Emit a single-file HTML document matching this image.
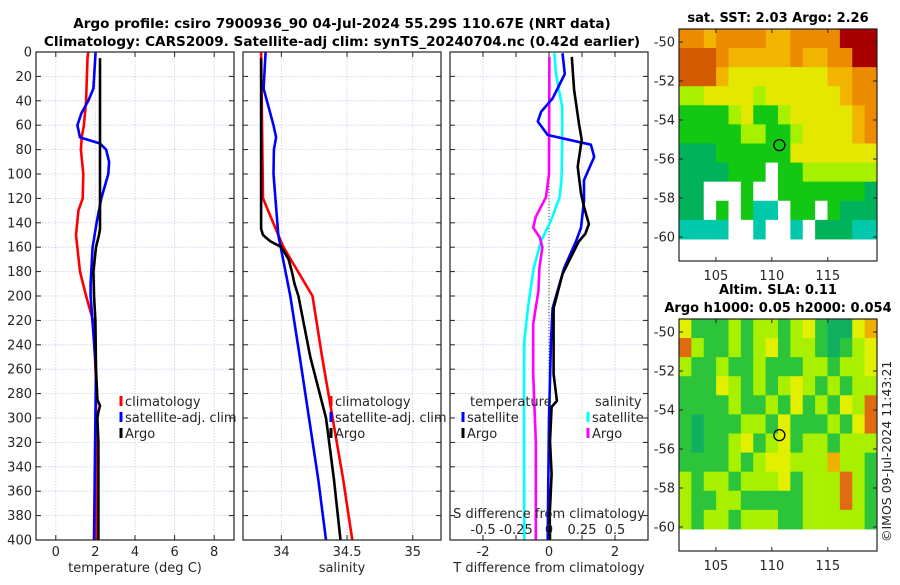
<!DOCTYPE html>
<html><head><meta charset="utf-8">
<style>
body{margin:0;background:#fff;width:900px;height:580px;overflow:hidden}
svg{font-family:"DejaVu Sans","Liberation Sans",sans-serif}
</style></head>
<body>
<svg id="c" width="900" height="580" viewBox="0 0 900 580" xmlns="http://www.w3.org/2000/svg">
<rect width="900" height="580" fill="#fff"/>
<text x="342" y="28" font-size="13.6" font-weight="bold" text-anchor="middle" fill="#000">Argo profile: csiro 7900936_90 04-Jul-2024 55.29S 110.67E (NRT data)</text>
<text x="342" y="46" font-size="13.6" font-weight="bold" text-anchor="middle" fill="#000">Climatology: CARS2009. Satellite-adj clim: synTS_20240704.nc (0.42d earlier)</text>
<text x="778" y="22" font-size="13" font-weight="bold" text-anchor="middle">sat. SST: 2.03 Argo: 2.26</text>
<text x="778" y="294" font-size="13" font-weight="bold" text-anchor="middle">Altim. SLA: 0.11</text>
<text x="778" y="312" font-size="13" font-weight="bold" text-anchor="middle">Argo h1000: 0.05 h2000: 0.054</text>
<text transform="translate(891,542) rotate(-90)" font-size="12.5" fill="#222">©IMOS 09-Jul-2024 11:43:21</text>
</svg>
<script>
// ---- data ----
const depthTicks=[0,20,40,60,80,100,120,140,160,180,200,220,240,260,280,300,320,340,360,380,400];
const tempTicks=[0,2,4,6,8];
const salTicks=[34,34.5,35];
const diffTicks=[-2,-1,0,1,2];
const diffTickLabels=["-2","","0","","2"];
const sdiffTickLabels=["-0.5","-0.25","0","0.25","0.5"];
const sdiffTicks=[-0.5,-0.25,0,0.25,0.5];
const climTempDepth=[0,5,40,60,70,80,100,120,130,150,180,200,220,250,270,300,400];
const climTempVal=[1.64,1.6,1.53,1.42,1.31,1.27,1.39,1.36,1.14,1.02,1.22,1.53,1.88,1.98,2.03,2.03,2.03];
const satTempDepth=[0,30,40,50,60,70,75,80,90,100,120,140,160,190,200,260,300,400];
const satTempVal=[2.01,1.9,1.64,1.3,1.09,1.22,2.23,2.54,2.69,2.65,2.3,2.06,1.86,1.76,1.76,2.03,2.0,1.93];
const argoTempDepth=[5,145,150,160,180,200,220,260,285,290,295,300,320,400];
const argoTempVal=[2.23,2.23,2.18,2.03,1.9,1.93,2.0,2.03,2.1,2.23,2.15,2.1,2.15,2.15];
const climSalDepth=[0,120,150,160,200,250,300,350,400];
const climSalVal=[33.846,33.86,33.977,34.016,34.237,34.31,34.39,34.47,34.54];
const satSalDepth=[0,30,40,60,70,80,100,150,200,250,300,350,400];
const satSalVal=[33.88,33.865,33.89,33.94,33.96,33.943,33.94,33.977,34.068,34.14,34.21,34.28,34.34];
const argoSalDepth=[5,145,150,155,160,170,180,190,200,250,300,350,400];
const argoSalVal=[33.846,33.846,33.86,33.914,34.0,34.055,34.08,34.1,34.13,34.22,34.34,34.40,34.45];
const satTdiffDepth=[1,18,38,49,57,68,76,86,105,122,144,155,177,210,237,300,400];
const satTdiffVal=[0.41,0.48,0.11,-0.24,-0.34,-0.04,1.27,1.37,1.06,1.06,0.97,0.82,0.46,0.11,0.06,0.0,-0.04];
const argoTdiffDepth=[4,31,59,72,94,116,127,141,149,155,182,210,264,286,291,319,346,374,379,400];
const argoTdiffVal=[0.69,0.76,0.91,0.99,0.87,0.97,1.06,1.21,1.1,0.91,0.41,0.14,0.14,0.24,0.08,0.03,0.08,0.03,0.02,0.03];
const satSdiffDepth=[1,18,45,72,105,119,138,155,177,210,237,291,379,400];
const satSdiffVal=[0.04,0.053,0.10,0.10,0.095,0.08,0.015,-0.06,-0.116,-0.16,-0.187,-0.19,-0.187,-0.187];
const argoSdiffDepth=[4,100,119,135,144,152,160,177,196,223,264,319,379,400];
const argoSdiffVal=[0.003,0,-0.023,-0.1,-0.12,-0.07,-0.05,-0.073,-0.08,-0.12,-0.12,-0.10,-0.1,-0.1];
const sstRows=["OOoOOOOooOOOORRR","DDDOoooooOooOORR","DDDoYYYYYYYYooOO","LLYYYYLYYYYYYoOO","GGGGLYGGLYYYYYoO","GGGGGLLGGLYYYYoO","SSSGGGGGGYYYYYYY","SSSSGGGWGGLLLLLL","SSWWWGWWGGGGGGGS","SSWGWGTTWGGWGSSS","TTTTWWTWWTWSSSTT"];
const slaRows=["YgggLgLLgLYgSSYO","RLggLgLYgLLgSgLY","LggLggLgggLLgLLY","gggYLgLgLYLgLgLL","ggggLggLgYgLgYLR","gSgggLLgYgggLgYR","gSggLYgLYgLLgLLL","ggggLgLYYLLLOLLg","LgLLgLLLYgLLLRLg","LggLLgggggLLLRLg","LgLLgLLLggLLLLLg"];
const floatLon=110.67, floatLat=-55.29;

const NS="http://www.w3.org/2000/svg";
const svg=document.getElementById('c');
function mk(tag,attrs,parent){const e=document.createElementNS(NS,tag);for(const k in attrs)e.setAttribute(k,attrs[k]);(parent||svg).appendChild(e);return e;}
const top0=52,bot=540;
const yD=d=>top0+(d/400)*(bot-top0);
function lin(d0,d1,r0,r1){return v=>r0+(v-d0)/(d1-d0)*(r1-r0);}
const panels=[
 {x0:36,x1:234,dom:[-1,9],ticks:tempTicks,labels:tempTicks.map(String),title:"temperature (deg C)",name:"temperature-panel"},
 {x0:243,x1:441,dom:[33.708,35.215],ticks:salTicks,labels:["34","34.5","35"],title:"salinity",name:"salinity-panel"},
 {x0:450,x1:648,dom:[-3,3],ticks:diffTicks,labels:diffTickLabels,title:"T difference from climatology",name:"difference-panel"}
];
panels.forEach((p,i)=>{
 p.sx=lin(p.dom[0],p.dom[1],p.x0,p.x1);
 const g=mk('g',{});
 
 
 mk('rect',{x:p.x0,y:top0,width:p.x1-p.x0,height:bot-top0,fill:'#fff'},g);
 depthTicks.forEach(d=>{
  const l=mk('line',{x1:p.x0,x2:p.x1,y1:yD(d),y2:yD(d),stroke:'#c8cde6','stroke-dasharray':'1.5,1.5','stroke-width':0.8},g);
  
  
  mk('line',{x1:p.x0,x2:p.x0+5,y1:yD(d),y2:yD(d),stroke:'#222'},g);
  mk('line',{x1:p.x1-5,x2:p.x1,y1:yD(d),y2:yD(d),stroke:'#222'},g);
  if(i===0){const t=mk('text',{x:p.x0-4,y:yD(d)+4.5,'font-size':13,'text-anchor':'end',fill:'#262626'},g);t.textContent=d;
   }
 });
 p.ticks.forEach((v,k)=>{
  const x=p.sx(v);
  const l=mk('line',{x1:x,x2:x,y1:top0,y2:bot,stroke:'#c8cde6','stroke-dasharray':'1.5,1.5','stroke-width':0.8},g);
  
  
  mk('line',{x1:x,x2:x,y1:bot,y2:bot-5,stroke:'#222'},g);
  mk('line',{x1:x,x2:x,y1:top0,y2:top0+5,stroke:'#222'},g);
  const t=mk('text',{x:x,y:bot+16,'font-size':13,'text-anchor':'middle',fill:'#262626'},g);t.textContent=p.labels[k];
  
 });
 const tt=mk('text',{x:(p.x0+p.x1)/2,y:bot+32,'font-size':13,'text-anchor':'middle',fill:'#262626'},g);tt.textContent=p.title;
 
 p.g=g;
});
function series(p,depths,vals,color,name,sx){
 const f=sx||p.sx;
 const pts=depths.map((d,k)=>f(vals[k]).toFixed(1)+','+yD(d).toFixed(1)).join(' ');
 const e=mk('polyline',{points:pts,fill:'none',stroke:color,'stroke-width':2.6,'stroke-linejoin':'round'},p.g);
 
 
}
const P1=panels[0],P2=panels[1],P3=panels[2];
mk('line',{x1:P3.sx(0),x2:P3.sx(0),y1:yD(100),y2:bot,stroke:'#444','stroke-dasharray':'1,2','stroke-width':1},P3.g);
series(P1,climTempDepth,climTempVal,'#ff0000','climatology-temperature-line');
series(P1,satTempDepth,satTempVal,'#0000ff','satellite-temperature-line');
series(P1,argoTempDepth,argoTempVal,'#000','argo-temperature-line');
series(P2,climSalDepth,climSalVal,'#ff0000','climatology-salinity-line');
series(P2,satSalDepth,satSalVal,'#0000ff','satellite-salinity-line');
series(P2,argoSalDepth,argoSalVal,'#000','argo-salinity-line');
const sS=lin(-0.75,0.75,P3.x0,P3.x1);
series(P3,satSdiffDepth,satSdiffVal,'#00ffff','satellite-salinity-diff-line',sS);
series(P3,argoSdiffDepth,argoSdiffVal,'#ff00ff','argo-salinity-diff-line',sS);
series(P3,satTdiffDepth,satTdiffVal,'#0000ff','satellite-temperature-diff-line');
series(P3,argoTdiffDepth,argoTdiffVal,'#000','argo-temperature-diff-line');
const st=mk('text',{x:549,y:518,'font-size':13,'text-anchor':'middle',fill:'#262626'},P3.g);st.textContent="S difference from climatology";

sdiffTicks.forEach((v,k)=>{const t=mk('text',{x:sS(v),y:534,'font-size':13,'text-anchor':'middle',fill:'#262626'},P3.g);t.textContent=sdiffTickLabels[k];
 });
function legend(parent,x,y,color,label,name){
 const g=mk('g',{},parent);
 
 
 mk('line',{x1:x,x2:x,y1:y-10,y2:y,stroke:color,'stroke-width':3},g);
 const t=mk('text',{x:x+4,y:y,'font-size':13,fill:'#262626'},g);t.textContent=label;
}
[[P1,121],[P2,331]].forEach(([p,x])=>{
 legend(p.g,x,406,'#ff0000','climatology','legend-climatology');
 legend(p.g,x,422,'#0000ff','satellite-adj. clim','legend-satellite-adj-clim');
 legend(p.g,x,438,'#000','Argo','legend-argo');
});
svg.appendChild(P3.g);
[P1,P2,P3].forEach(p=>mk('rect',{x:p.x0,y:top0,width:p.x1-p.x0,height:bot-top0,fill:'none',stroke:'#222','stroke-width':1.2}));
let t1=mk('text',{x:470,y:406,'font-size':13,fill:'#262626'},P3.g);t1.textContent="temperature";

let t2=mk('text',{x:595,y:406,'font-size':13,fill:'#262626'},P3.g);t2.textContent="salinity";

legend(P3.g,463,422,'#0000ff','satellite','legend-t-satellite');
legend(P3.g,463,438,'#000','Argo','legend-t-argo');
legend(P3.g,588,422,'#00ffff','satellite','legend-s-satellite');
legend(P3.g,588,438,'#ff00ff','Argo','legend-s-argo');

const sstColors={R:'#a80000',D:'#d45a00',O:'#ec8a00',o:'#f2b400',Y:'#e4e800',L:'#a6f000',G:'#12c812',S:'#00b25a',T:'#00c8aa',W:'#ffffff'};
const slaColors={Y:'#e2f000',L:'#a8f000',g:'#2cc43a',S:'#10b060',O:'#f0b000',R:'#e06a10'};
function map(rows,colors,ytop,name){
 const g=mk('g',{});
 
 
 const x0=679,x1=877,y0=ytop,ybot=ytop+232;
 const sxm=lin(101.7,119.4,x0,x1), sym=lin(-50,-60,ytop+13,ytop+208);
 const latTop=-49.33,latBot=-60.1,lonL=101.7,lonR=119.4;
 const nr=rows.length,nc=rows[0].length;
 rows.forEach((r,i)=>{for(let j=0;j<nc;j++){
  const la0=latTop+(latBot-latTop)*i/nr, la1=latTop+(latBot-latTop)*(i+1)/nr;
  const lo0=lonL+(lonR-lonL)*j/nc, lo1=lonL+(lonR-lonL)*(j+1)/nc;
  const c=mk('rect',{x:sxm(lo0),y:sym(la0),width:sxm(lo1)-sxm(lo0)+0.5,height:sym(la1)-sym(la0)+0.5,fill:colors[r[j]]},g);
  
  
 }});
 mk('rect',{x:x0,y:y0,width:x1-x0,height:ybot-y0,fill:'none',stroke:'#222','stroke-width':1.2},g);
 [-50,-52,-54,-56,-58,-60].forEach(la=>{
  const y=sym(la);
  mk('line',{x1:x0,x2:x0+4,y1:y,y2:y,stroke:'#222'},g);
  mk('line',{x1:x1-4,x2:x1,y1:y,y2:y,stroke:'#222'},g);
  const t=mk('text',{x:x0-4,y:y+4.5,'font-size':13,'text-anchor':'end',fill:'#262626'},g);t.textContent=la;
  
 });
 [105,110,115].forEach(lo=>{
  const x=sxm(lo);
  mk('line',{x1:x,x2:x,y1:ybot,y2:ybot-4,stroke:'#222'},g);
  mk('line',{x1:x,x2:x,y1:y0,y2:y0+4,stroke:'#222'},g);
  const t=mk('text',{x:x,y:ybot+19,'font-size':13,'text-anchor':'middle',fill:'#262626'},g);t.textContent=lo;
  
 });
 const m=mk('circle',{cx:sxm(floatLon),cy:sym(floatLat),r:5.5,fill:'none',stroke:'#000','stroke-width':1.3},g);
 
 
}
map(sstRows,sstColors,29,'sst-map');
map(slaRows,slaColors,319,'sla-map');
</script>
</body></html>
